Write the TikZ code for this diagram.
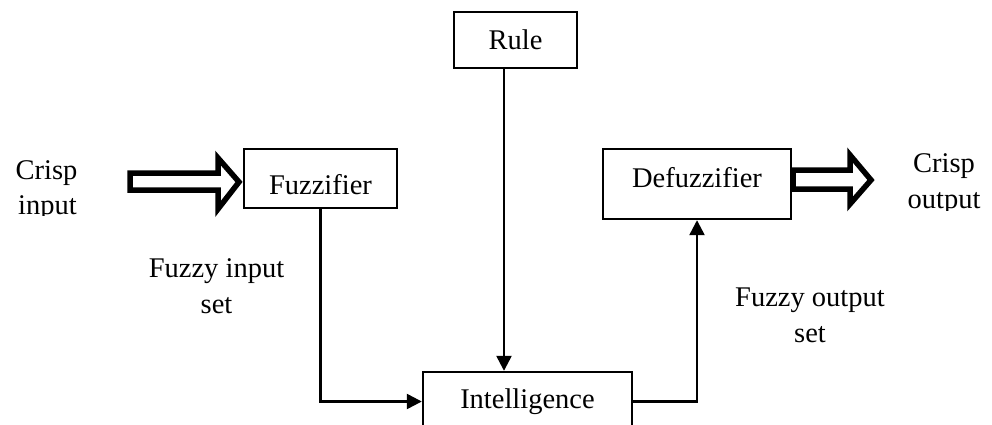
\documentclass[tikz,border=0pt]{standalone}
\usepackage{fontspec}
\setmainfont{Liberation Serif}[Ligatures=NoCommon]
\usetikzlibrary{arrows.meta}

\begin{document}
\begin{tikzpicture}[x=1pt, y=-1pt,
  every node/.style={font=\fontsize{28.5}{36}\selectfont},
  block/.style={draw, line width=2.4pt, inner sep=0pt},
  link/.style={line width=2.4pt, -{Triangle[length=15pt, width=15pt]}},
  fat/.style={draw, line width=5.5pt, fill=white, miter limit=10},
  lbl/.style={align=center, inner sep=0pt}]
\useasboundingbox (0,0) rectangle (992,425);
\clip (0,0) rectangle (992,425);

% processing blocks
\node[block, minimum width=123pt, minimum height=56pt] (rule) at (515.5,40) {Rule};
\node[block, minimum width=153pt, minimum height=59pt, text height=31pt, text depth=0pt] (fuzz) at (320.5,178.5) {Fuzzifier};
\node[block, minimum width=188pt, minimum height=70pt, text height=20pt, text depth=14pt] (defuzz) at (697,184) {Defuzzifier};
\node[block, minimum width=209pt, minimum height=59pt] (intel) at (527.5,401.5) {Intelligence};

% signal flow between the blocks
\draw[link] ([xshift=-11.5pt]rule.south) -- ([xshift=-11.5pt]rule.south |- intel.north);
\draw[link] (fuzz.south) |- (intel.west);
\draw[link] (intel.east) -| (defuzz.south);

% hollow block arrows for the crisp input and output
\draw[fat] (130,173) -- (218,173) -- (218,158) -- (239,182) -- (218,209) -- (218,190) -- (130,190) -- cycle;
\draw[fat] (793,170) -- (850,170) -- (850,155) -- (871,180) -- (850,204) -- (850,189) -- (793,189) -- cycle;

% crisp input / output labels (second line cut off at the baseline)
\node[lbl, anchor=base] (cinA) at (46.5,179) {Crisp};
\begin{scope}
  \clip (0,190) rectangle (120,215);
  \node[lbl, anchor=base] (cinB) at (47.5,214) {input};
\end{scope}
\node[lbl, anchor=base] (coutA) at (944,172) {Crisp};
\begin{scope}
  \clip (880,185) rectangle (992,210);
  \node[lbl, anchor=base] (coutB) at (944,208) {output};
\end{scope}

% fuzzy set labels
\node[lbl, anchor=north] (fin) at (216.5,258) {Fuzzy input\\set};
\node[lbl, anchor=north] (fout) at (810,288) {Fuzzy output\\set};
\end{tikzpicture}
\end{document}
